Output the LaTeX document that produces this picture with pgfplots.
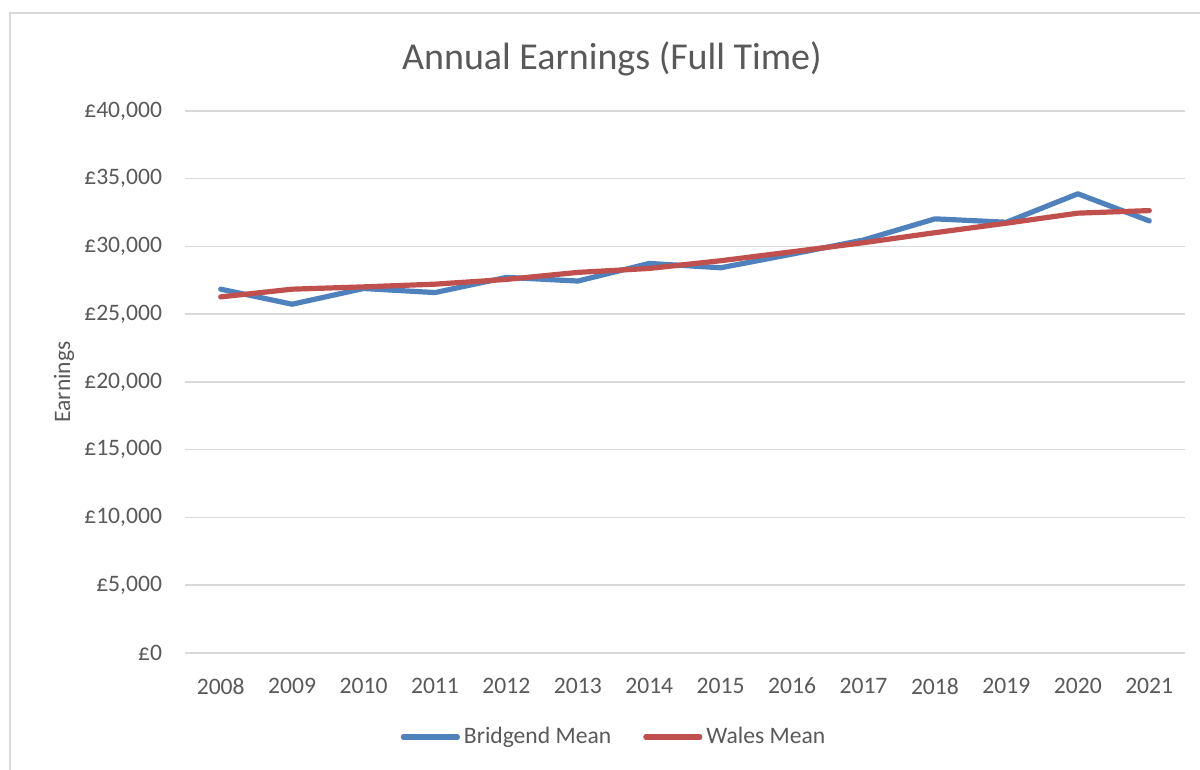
\documentclass[border=0pt]{standalone}
\usepackage{pgfplots}
\pgfplotsset{compat=1.18}
\usepackage{fontspec}
\setmainfont{Carlito}
\definecolor{bluel}{HTML}{4F81BD}
\definecolor{redl}{HTML}{C0504D}
\definecolor{gridc}{HTML}{D9D9D9}
\definecolor{txt}{HTML}{595959}
\begin{document}
\begin{tikzpicture}
\useasboundingbox (0bp,0bp) rectangle (600bp,385bp);
\draw[gridc, line width=0.75bp] (5bp,0bp) -- (5bp,378.5bp) -- (600bp,378.5bp);
\begin{axis}[
  at={(92.5bp,58.5bp)}, anchor=south west,
  scale only axis, width=500bp, height=271bp,
  xmin=2007.5, xmax=2021.5, ymin=0, ymax=40000,
  scaled y ticks=false,
  xtick={2008,...,2021},
  xticklabels={2008,2009,2010,2011,2012,2013,2014,2015,2016,2017,2018,2019,2020,2021},
  ytick={0,5000,...,40000},
  yticklabels={£0,{£5,000},{£10,000},{£15,000},{£20,000},{£25,000},{£30,000},{£35,000},{£40,000}},
  ymajorgrids, grid style={gridc, line width=0.75bp},
  axis x line*=bottom, axis y line*=left,
  x axis line style={gridc, line width=0.75bp, -},
  y axis line style={draw=none},
  major tick length=0pt,
  tick label style={font=\fontsize{11.8bp}{13bp}\selectfont, text=txt},
  yticklabel style={xshift=-8bp},
  xticklabel style={yshift=-9bp},
  ylabel={Earnings},
  ylabel style={at={(axis description cs:-0.121,0.5)}, anchor=center, font=\fontsize{11.8bp}{13bp}\selectfont, text=txt},
  title={Annual Earnings (Full Time)},
  title style={at={(axis description cs:0.427,1.074)}, anchor=center, font=\fontsize{19bp}{22bp}\selectfont, text=txt},
  legend style={at={(axis description cs:0.43,-0.155)}, anchor=center, draw=none, legend columns=2,
    font=\fontsize{11.8bp}{13bp}\selectfont, text=txt,
    /tikz/every even column/.append style={column sep=14bp}},
  legend image code/.code={\draw[#1, line cap=round] (0bp,0bp) -- (27bp,0bp);},
  every axis plot/.append style={line width=2.6bp, line join=round, line cap=round},
  clip=false,
]
\addplot[bluel] coordinates {
(2008,26850) (2009,25740) (2010,26900) (2011,26600) (2012,27720) (2013,27450) (2014,28750)
(2015,28430) (2016,29440) (2017,30480) (2018,32040) (2019,31790) (2020,33890) (2021,31890)};
\addlegendentry{Bridgend Mean}
\addplot[redl] coordinates {
(2008,26280) (2009,26850) (2010,27020) (2011,27220) (2012,27570) (2013,28090) (2014,28380)
(2015,28950) (2016,29610) (2017,30280) (2018,31020) (2019,31720) (2020,32460) (2021,32650)};
\addlegendentry{Wales Mean}
\end{axis}
\end{tikzpicture}
\end{document}
